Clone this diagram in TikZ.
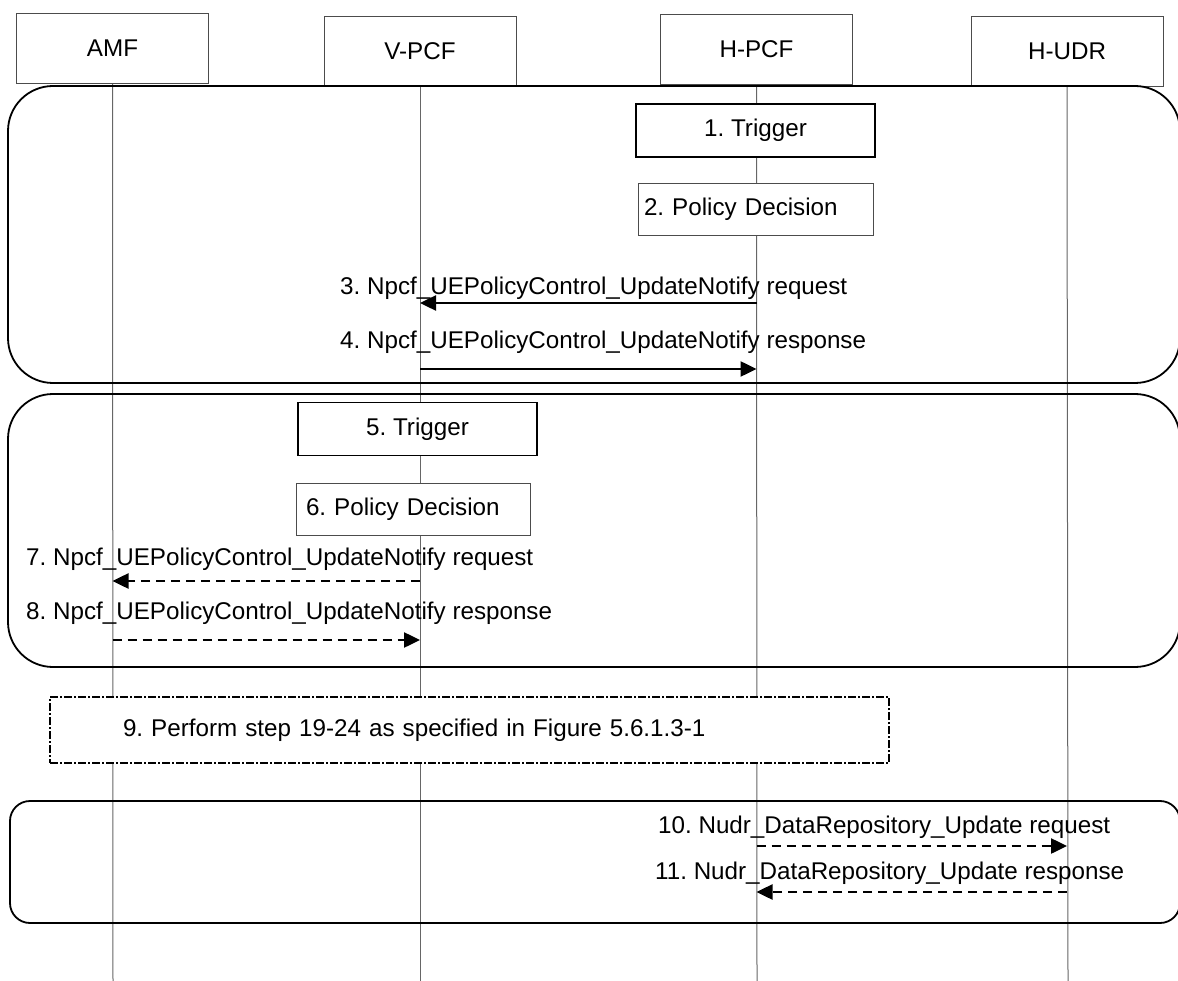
\documentclass[tikz,border=0pt]{standalone}
\usepackage{fontspec}
\setmainfont{Liberation Sans}
\usetikzlibrary{arrows.meta}
\frenchspacing
\begin{document}
\begin{tikzpicture}[
  x=1pt, y=-1pt,
  every node/.style={font=\fontsize{24.2}{29}\selectfont},
  entity/.style={draw=black!70, line width=0.9pt, minimum width=192pt, minimum height=70pt, inner sep=0pt},
  life/.style={draw=black!60, line width=1pt},
  group/.style={draw, line width=1.8pt},
  trig/.style={draw, fill=white, line width=1.6pt, minimum width=239pt, minimum height=53pt, inner sep=0pt},
  decision/.style={draw=black!70, fill=white, line width=0.9pt, minimum height=52pt, align=left},
  msg/.style={line width=2.5pt, -{Triangle[length=16pt,width=15pt]}},
  dmsg/.style={msg, dash pattern=on 9pt off 6pt},
  lbl/.style={anchor=west, inner sep=0pt}
]
  \useasboundingbox (0,0) rectangle (1178,981);
  % Teilnehmer
  \node[entity] (amf) at (112.5,48.5) {AMF};
  \node[entity] (vpcf) at (420,51.5) {V-PCF};
  \node[entity] (hpcf) at (756.5,49.5) {H-PCF};
  \node[entity] (hudr) at (1067,51.5) {H-UDR};
  \foreach \n/\x in {amf/113, vpcf/420, hpcf/757, hudr/1068} {
    \coordinate (\n-end) at (\x,981);
    \draw[life] (\n.south) -- (\n-end);
  }
  % Gruppen
  \draw[group, rounded corners=45pt] (8,86) rectangle (1180,383);
  \draw[group, rounded corners=45pt] (8,394) rectangle (1180,667);
  \draw[group, rounded corners=20pt] (10,801) rectangle (1180,923);
  % Schritte
  \node[trig] (s1) at (755.5,130.5) {1. Trigger};
  \node[decision, text width=223pt, inner xsep=6pt] (s2) at (755.5,209) {2. Policy Decision};
  \node[trig] (s5) at (417.5,429) {5. Trigger};
  \node[decision, text width=214pt, inner xsep=10pt] (s6) at (413,509) {6. Policy Decision};
  \node[decision, dash pattern=on 8pt off 2pt on 2pt off 2pt, draw=black, line width=1.1pt,
    minimum height=66pt, text width=693pt, inner xsep=73pt] (s9) at (469.5,730)
    {9. Perform step 19-24 as specified in Figure 5.6.1.3-1};
  % Nachrichten
  \coordinate (y3) at (0,303);
  \coordinate (y4) at (0,369);
  \coordinate (y7) at (0,581);
  \coordinate (y8) at (0,640);
  \coordinate (y10) at (0,846);
  \coordinate (y11) at (0,892);
  \draw[msg] (hpcf |- y3) -- (vpcf |- y3);
  \draw[msg] (vpcf |- y4) -- (hpcf |- y4);
  \draw[dmsg] (vpcf |- y7) -- (amf |- y7);
  \draw[dmsg] (amf |- y8) -- (vpcf |- y8);
  \draw[dmsg] (hpcf |- y10) -- (hudr |- y10);
  \draw[dmsg] (hudr |- y11) -- (hpcf |- y11);
  \node[lbl] (l3) at (340,288) {3. Npcf\_UEPolicyControl\_UpdateNotify request};
  \node[lbl] (l4) at (340,342) {4. Npcf\_UEPolicyControl\_UpdateNotify response};
  \node[lbl] (l7) at (26,559) {7. Npcf\_UEPolicyControl\_UpdateNotify request};
  \node[lbl] (l8) at (26,613) {8. Npcf\_UEPolicyControl\_UpdateNotify response};
  \node[lbl] (l10) at (658,827) {10. Nudr\_DataRepository\_Update request};
  \node[lbl] (l11) at (655,873) {11. Nudr\_DataRepository\_Update response};
\end{tikzpicture}
\end{document}
